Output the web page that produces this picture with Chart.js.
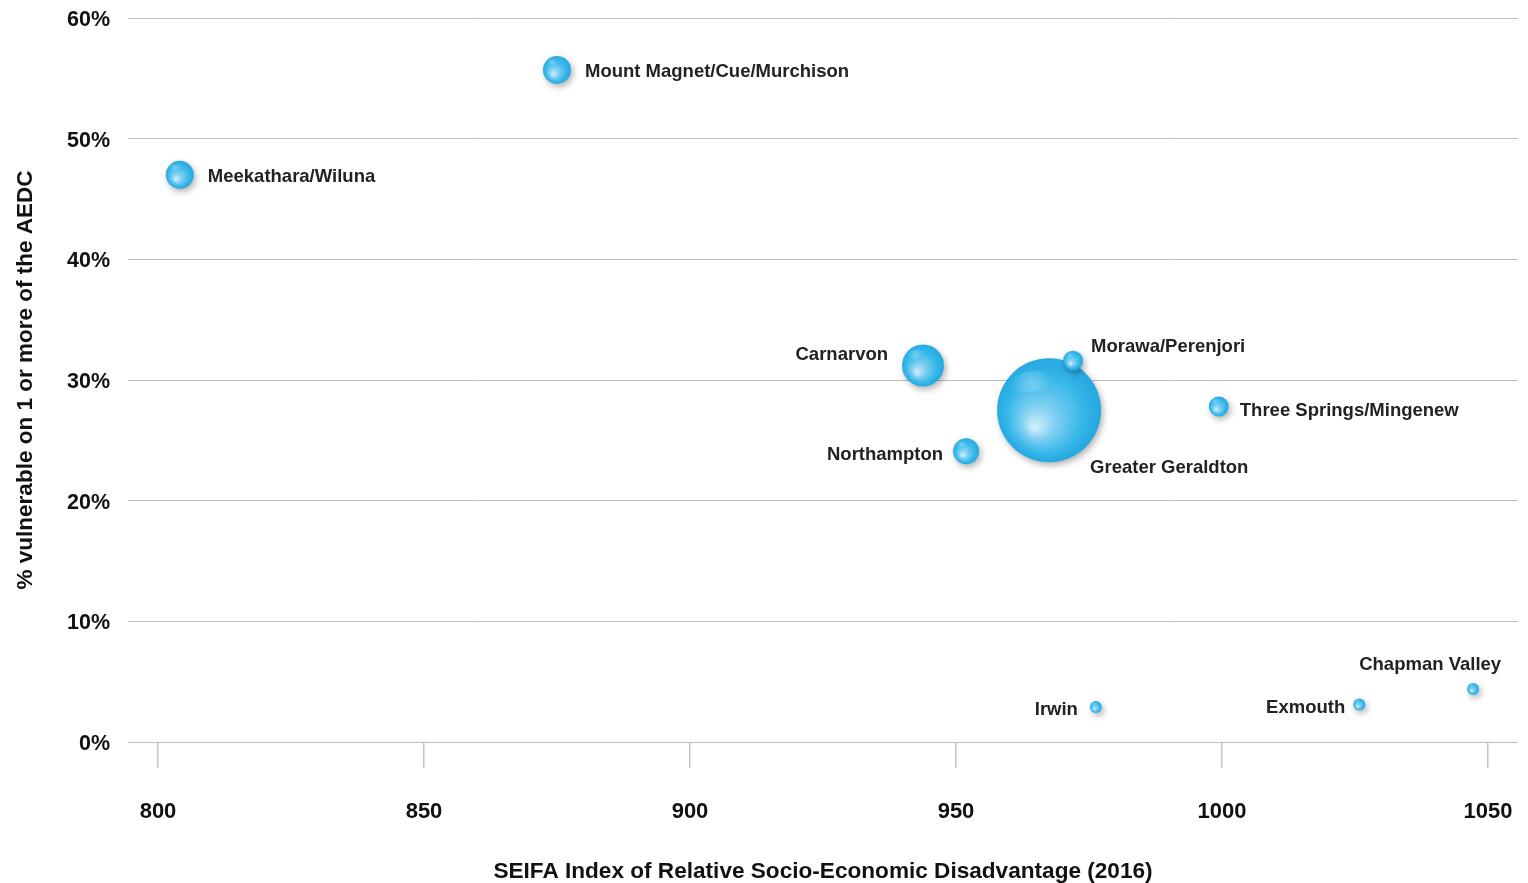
<!DOCTYPE html>
<html><head><meta charset="utf-8">
<script src="https://cdn.jsdelivr.net/npm/chart.js@4"></script>
<style>html,body{margin:0;padding:0;background:#fff;}#wrap{width:1528px;height:883px;position:relative}</style>
</head><body><div id="wrap"><canvas id="c"></canvas></div>
<script>
const regions = ['Meekathara/Wiluna','Mount Magnet/Cue/Murchison','Carnarvon','Greater Geraldton','Morawa/Perenjori','Northampton','Three Springs/Mingenew','Irwin','Exmouth','Chapman Valley'];
const seifa = [804.1, 875.0, 943.8, 967.5, 972.0, 951.9, 999.4, 976.3, 1025.8, 1047.2];
const vulnerable = [47.0, 55.7, 31.2, 27.5, 31.6, 24.1, 27.8, 2.9, 3.1, 4.4];
const bubbleSize = [14, 14, 21, 52, 10, 13, 10, 6, 6, 6];
const xTicks = [800, 850, 900, 950, 1000, 1050];
const yTicks = [0, 10, 20, 30, 40, 50, 60];
const xTitle = 'SEIFA Index of Relative Socio-Economic Disadvantage (2016)';
const yTitle = '% vulnerable on 1 or more of the AEDC';

// label placement (pixel offsets from bubble centre), kept apart from the data
const labelPlacement = [
  {dx: 28, dy: 0, align: 'left'},
  {dx: 28, dy: 0, align: 'left'},
  {dx: -35, dy: -13, align: 'right'},
  {dx: 41, dy: 56, align: 'left'},
  {dx: 18, dy: -16, align: 'left'},
  {dx: -23, dy: 2, align: 'right'},
  {dx: 21, dy: 2, align: 'left'},
  {dx: -18, dy: 1, align: 'right'},
  {dx: -14, dy: 1, align: 'right'},
  {dx: 28, dy: -26, align: 'right'}
];

const FONT = "'Liberation Sans', Arial, Helvetica, sans-serif";

function bubbleFill(ctx) {
  const chart = ctx.chart;
  const xs = chart.scales && chart.scales.x, ys = chart.scales && chart.scales.y;
  if (ctx.type !== 'data' || !xs || !ys) return '#29b6ef';
  const i = ctx.dataIndex;
  const cx = xs.getPixelForValue(seifa[i]);
  const cy = ys.getPixelForValue(vulnerable[i]);
  const r = bubbleSize[i];
  if (!isFinite(cx) || !isFinite(cy) || !isFinite(r)) return '#29b6ef';
  const g = chart.ctx.createRadialGradient(cx - 0.3 * r, cy + 0.35 * r, 0, cx, cy, r);
  g.addColorStop(0, 'rgba(215,243,254,0.95)');
  g.addColorStop(0.35, 'rgba(118,208,246,0.93)');
  g.addColorStop(0.72, 'rgba(44,184,238,0.92)');
  g.addColorStop(1, 'rgba(28,166,226,0.95)');
  return g;
}

const shadowPlugin = {
  id: 'shadow',
  beforeDatasetDraw(chart) {
    const c = chart.ctx;
    c.save();
    c.shadowColor = 'rgba(0,0,0,0.32)';
    c.shadowBlur = 6;
    c.shadowOffsetX = 2;
    c.shadowOffsetY = 3;
  },
  afterDatasetDraw(chart) {
    chart.ctx.restore();
    // soft gloss highlight near the top of each bubble
    const c = chart.ctx;
    const meta = chart.getDatasetMeta(0);
    c.save();
    meta.data.forEach(el => {
      const r = el.options.radius;
      const hx = el.x - 0.35 * r, hy = el.y - 0.55 * r;
      const g = c.createRadialGradient(hx, hy, 0, hx, hy, 0.4 * r);
      g.addColorStop(0, 'rgba(255,255,255,0.28)');
      g.addColorStop(1, 'rgba(255,255,255,0)');
      c.fillStyle = g;
      c.beginPath();
      c.ellipse(hx, hy, 0.4 * r, 0.2 * r, -0.15, 0, Math.PI * 2);
      c.fill();
    });
    c.restore();
  }
};

const labelPlugin = {
  id: 'pointLabels',
  afterDatasetsDraw(chart) {
    const c = chart.ctx;
    const meta = chart.getDatasetMeta(0);
    c.save();
    c.font = "bold 18.5px " + FONT;
    c.fillStyle = '#222';
    c.textBaseline = 'middle';
    meta.data.forEach((el, i) => {
      const p = labelPlacement[i];
      c.textAlign = p.align;
      c.fillText(regions[i], el.x + p.dx, el.y + p.dy + 2);
    });
    c.restore();
  }
};

function noOverflow(s) {
  s.paddingTop = 0; s.paddingBottom = 0; s.paddingLeft = 0; s.paddingRight = 0;
}

new Chart(document.getElementById('c'), {
  type: 'bubble',
  data: {
    datasets: [{
      data: regions.map((n, i) => ({x: seifa[i], y: vulnerable[i], r: bubbleSize[i]})),
      backgroundColor: bubbleFill,
      borderWidth: 0,
      hoverRadius: 0,
      clip: false
    }]
  },
  options: {
    responsive: true,
    maintainAspectRatio: false,
    animation: false,
    events: [],
    layout: {autoPadding: false, padding: {top: 18, right: 10, left: 0, bottom: 0}},
    plugins: {legend: {display: false}, tooltip: {enabled: false}},
    scales: {
      x: {
        type: 'linear',
        min: 794.36, max: 1055.64,
        afterBuildTicks(s) { s.ticks = xTicks.map(v => ({value: v})); },
        afterFit(s) { s.height = 141; noOverflow(s); },
        grid: {drawOnChartArea: false, drawTicks: true, tickLength: 26, color: '#c4c4c4', lineWidth: 1.5},
        border: {display: false},
        ticks: {padding: 31, color: '#111', callback: v => String(v), font: {family: FONT, size: 22, weight: 'bold'}},
        title: {display: true, text: xTitle, color: '#111', padding: {top: 0, bottom: -2}, font: {family: FONT, size: 22.6, weight: 'bold'}}
      },
      y: {
        type: 'linear',
        min: 0, max: 60,
        afterBuildTicks(s) { s.ticks = yTicks.map(v => ({value: v})); },
        afterFit(s) { s.width = 128; noOverflow(s); },
        grid: {drawTicks: false, color: '#bdbdbd', lineWidth: 1},
        border: {display: false},
        ticks: {padding: 18, labelOffset: 2, color: '#111', callback: v => v + '%', font: {family: FONT, size: 21.5, weight: 'bold'}},
        title: {display: true, text: yTitle, color: '#111', padding: {top: 12, bottom: 0}, font: {family: FONT, size: 22.5, weight: 'bold'}}
      }
    }
  },
  plugins: [shadowPlugin, labelPlugin]
});
</script></body></html>
